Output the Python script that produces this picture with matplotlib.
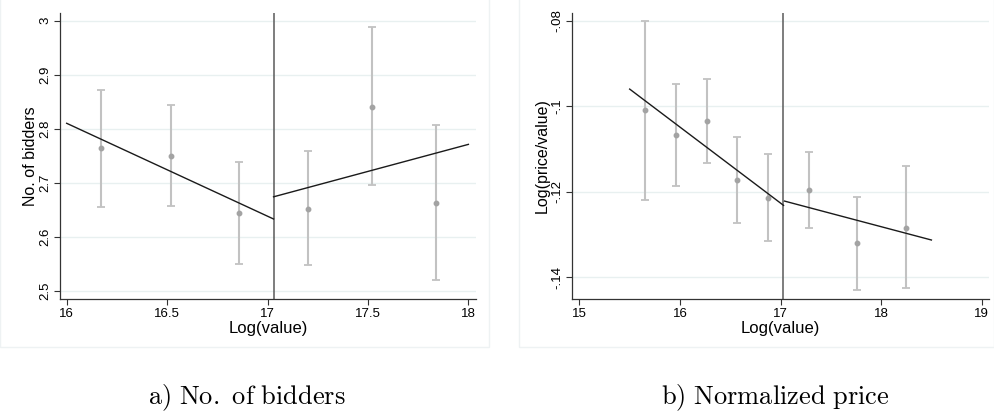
import matplotlib
matplotlib.use('Agg')
import matplotlib.pyplot as plt
from matplotlib.patches import Rectangle

plt.rcParams['font.family'] = ['Liberation Sans', 'DejaVu Sans']
plt.rcParams['mathtext.fontset'] = 'cm'

# a) number of bidders
bid_x = [16.17, 16.52, 16.86, 17.20, 17.52, 17.84]
bid_y = [2.764, 2.750, 2.644, 2.651, 2.840, 2.663]
bid_lo = [2.656, 2.657, 2.549, 2.547, 2.695, 2.520]
bid_hi = [2.872, 2.844, 2.739, 2.758, 2.988, 2.806]
bid_fit_left_x = [16.0, 17.03]
bid_fit_left_y = [2.810, 2.633]
bid_fit_right_x = [17.03, 18.0]
bid_fit_right_y = [2.674, 2.771]
bid_cut = 17.03

# b) normalized price
pr_x = [15.65, 15.96, 16.27, 16.57, 16.88, 17.28, 17.76, 18.25]
pr_y = [-0.1009, -0.1068, -0.1035, -0.1172, -0.1214, -0.1196, -0.1321, -0.1284]
pr_lo = [-0.1219, -0.1187, -0.1134, -0.1273, -0.1315, -0.1286, -0.1430, -0.1426]
pr_hi = [-0.0800, -0.0948, -0.0936, -0.1071, -0.1111, -0.1108, -0.1213, -0.1140]
pr_fit_left_x = [15.50, 17.03]
pr_fit_left_y = [-0.0960, -0.1232]
pr_fit_right_x = [17.04, 18.50]
pr_fit_right_y = [-0.1222, -0.1313]
pr_cut = 17.02

fig = plt.figure(figsize=(9.94, 4.15), dpi=100)

# faint frames around each graph region
fig.patches.append(Rectangle((0.0, 0.165), 0.492, 0.84, transform=fig.transFigure,
                             fill=False, edgecolor='#eef2f3', lw=1))
fig.patches.append(Rectangle((0.522, 0.165), 0.478, 0.84, transform=fig.transFigure,
                             fill=False, edgecolor='#eef2f3', lw=1))

ax1 = fig.add_axes([0.0604, 0.2795, 0.4185, 0.6892])
ax2 = fig.add_axes([0.5758, 0.2795, 0.4189, 0.6892])


def panel(ax, x, y, lo, hi, fl_x, fl_y, fr_x, fr_y, cut, ylabel):
    yerr = [[a - b for a, b in zip(y, lo)], [b - a for a, b in zip(y, hi)]]
    ax.errorbar(x, y, yerr=yerr, fmt='none', ecolor='#c2c2c2',
                elinewidth=1.5, capsize=3.2, capthick=1.3, zorder=3)
    ax.plot(x, y, 'o', color='#a3a3a3', ms=3.2, zorder=3)
    ax.plot(fl_x, fl_y, color='#1a1a1a', lw=1.0, zorder=4)
    ax.plot(fr_x, fr_y, color='#1a1a1a', lw=1.0, zorder=4)
    ax.axvline(cut, color='#5a5a5a', lw=1.1, zorder=2)
    ax.grid(axis='y', color='#e8f0f0', lw=1.0)
    ax.set_axisbelow(True)
    for s in ['top', 'right']:
        ax.spines[s].set_visible(False)
    for s in ['left', 'bottom']:
        ax.spines[s].set_color('#333333')
        ax.spines[s].set_linewidth(0.9)
    ax.tick_params(labelsize=9.5, color='#333333', length=4.5, width=0.8, pad=2)
    for t in ax.get_yticklabels():
        t.set_rotation(90)
        t.set_va('center')
    ax.set_xlabel('Log(value)', fontsize=12, labelpad=0.5)
    ax.set_ylabel(ylabel, fontsize=11.5, labelpad=1)


ax1.set_xlim(15.967, 18.038)
ax1.set_ylim(2.485, 3.014)
ax1.set_xticks([16, 16.5, 17, 17.5, 18])
ax1.set_xticklabels(['16', '16.5', '17', '17.5', '18'])
ax1.set_yticks([2.5, 2.6, 2.7, 2.8, 2.9, 3.0])
ax1.set_yticklabels(['2.5', '2.6', '2.7', '2.8', '2.9', '3'])
panel(ax1, bid_x, bid_y, bid_lo, bid_hi, bid_fit_left_x, bid_fit_left_y,
      bid_fit_right_x, bid_fit_right_y, bid_cut, 'No. of bidders')

ax2.set_xlim(14.93, 19.07)
ax2.set_ylim(-0.1451, -0.0782)
ax2.set_xticks([15, 16, 17, 18, 19])
ax2.set_xticklabels(['15', '16', '17', '18', '19'])
ax2.set_yticks([-0.14, -0.12, -0.10, -0.08])
ax2.set_yticklabels(['-.14', '-.12', '-.1', '-.08'])
panel(ax2, pr_x, pr_y, pr_lo, pr_hi, pr_fit_left_x, pr_fit_left_y,
      pr_fit_right_x, pr_fit_right_y, pr_cut, 'Log(price/value)')

fig.text(0.248, 0.025, r'$\mathrm{a)\ No.\ of\ bidders}$', ha='center', fontsize=19)
fig.text(0.780, 0.025, r'$\mathrm{b)\ Normalized\ price}$', ha='center', fontsize=19)

fig.savefig('out.png', dpi=100)
